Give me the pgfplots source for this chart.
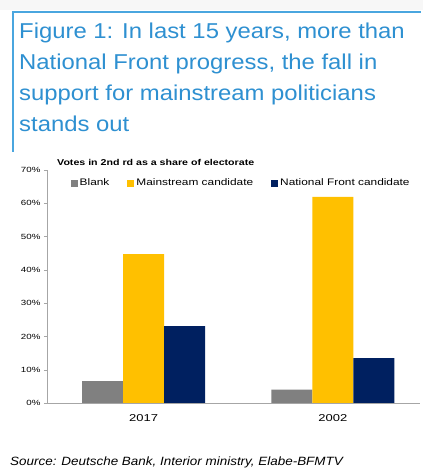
\documentclass[border=0pt]{standalone}
\usepackage{pgfplots}
\pgfplotsset{compat=1.18}
\usepackage{fontspec}
\setmainfont{Liberation Sans}
\newfontfamily\widefont[FakeStretch=1.25]{Liberation Sans}
\newfontfamily\widerfont[FakeStretch=1.3]{Liberation Sans}
\newfontfamily\srcfont[FakeStretch=1.12]{Liberation Sans}
\newfontfamily\titlefont[FakeStretch=1.11]{Liberation Sans}
\definecolor{titleblue}{HTML}{2E90D1}
\definecolor{boxblue}{HTML}{4AA6DF}
\definecolor{barGray}{HTML}{808080}
\definecolor{barYellow}{HTML}{FFC000}
\definecolor{barNavy}{HTML}{002060}
\definecolor{axisgray}{HTML}{A6A6A6}
\begin{document}
\begin{tikzpicture}[x=1pt,y=1pt]
\fill[white] (0,0) rectangle (423,472);
\fill[black!3] (0,462) rectangle (423,472);
\draw[boxblue, line width=2.2pt] (13,320) -- (13,460) -- (421,460);
\node[anchor=north west, align=left, inner sep=0pt, text=titleblue,
      font=\titlefont\fontsize{21.5}{30.8}\selectfont] at (19,449)
  {Figure 1: In last 15 years, more than\\National Front progress, the fall in\\support for mainstream politicians\\stands out};
\node[anchor=west, inner sep=0pt, font=\widefont\fontsize{8.5}{10}\selectfont\bfseries] at (57,310)
  {Votes in 2nd rd as a share of electorate};
\begin{axis}[
  at={(47pt,69pt)}, anchor=south west,
  scale only axis, width=373pt, height=233pt,
  xmin=-0.51, xmax=1.46, ymin=0, ymax=70,
  ybar=0pt, bar width=41pt,
  axis lines=left, axis line style={axisgray, -},
  xtick={0,1}, xticklabels={2017,2002},
  xtick style={draw=none},
  ytick={0,10,...,70},
  yticklabel={\pgfmathprintnumber{\tick}\%},
  tick align=outside, major tick length=3pt,
  ytick style={axisgray},
  yticklabel style={font=\widerfont\fontsize{7.5}{8}\selectfont},
  xticklabel style={font=\widerfont\fontsize{10}{11}\selectfont, yshift=-5pt},
  /pgf/number format/assume math mode=true,
  legend style={at={(0.055,0.944)}, anchor=west, draw=none, fill=none,
    legend columns=3, font=\widefont\fontsize{9.5}{11}\selectfont,
    /tikz/every even column/.append style={column sep=16pt}},
  legend image code/.code={\fill[#1] (0pt,-3.5pt) rectangle (7pt,3.5pt);},
]
\addplot[fill=barGray, draw=none] coordinates {(0,6.6) (1,4.0)};
\addplot[fill=barYellow, draw=none] coordinates {(0,44.7) (1,61.9)};
\addplot[fill=barNavy, draw=none] coordinates {(0,23.1) (1,13.5)};
\legend{Blank, Mainstream candidate, National Front candidate}
\end{axis}
\node[anchor=west, inner sep=0pt, font=\srcfont\fontsize{12}{14}\selectfont\itshape] at (10,10)
  {Source: Deutsche Bank, Interior ministry, Elabe-BFMTV};
\end{tikzpicture}
\end{document}
